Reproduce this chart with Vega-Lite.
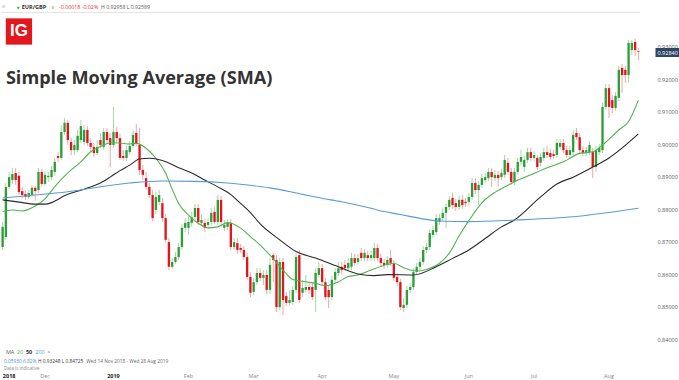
{
"$schema":"https://vega.github.io/schema/vega-lite/v6.json",
"width":639,"height":368,"padding":0,"background":"white",
"config":{"view":{"stroke":null},"axis":{"labelFont":"Open Sans"},"text":{"font":"Open Sans"}},
"datasets":{
"one":[{}],
"candles":[
{"date":"2018-11-14","open":0.8684,"high":0.8761,"low":0.8675,"close":0.8746},
{"date":"2018-11-15","open":0.8715,"high":0.8881,"low":0.8706,"close":0.8869},
{"date":"2018-11-16","open":0.8869,"high":0.8915,"low":0.8863,"close":0.8899},
{"date":"2018-11-19","open":0.8890,"high":0.8927,"low":0.8878,"close":0.8909},
{"date":"2018-11-20","open":0.8912,"high":0.8927,"low":0.8875,"close":0.8890},
{"date":"2018-11-21","open":0.8903,"high":0.8915,"low":0.8844,"close":0.8853},
{"date":"2018-11-22","open":0.8856,"high":0.8869,"low":0.8835,"close":0.8844},
{"date":"2018-11-23","open":0.8847,"high":0.8859,"low":0.8829,"close":0.8838},
{"date":"2018-11-26","open":0.8838,"high":0.8859,"low":0.8832,"close":0.8850},
{"date":"2018-11-27","open":0.8844,"high":0.8875,"low":0.8838,"close":0.8866},
{"date":"2018-11-28","open":0.8866,"high":0.8872,"low":0.8826,"close":0.8856},
{"date":"2018-11-29","open":0.8859,"high":0.8927,"low":0.8850,"close":0.8915},
{"date":"2018-11-30","open":0.8915,"high":0.8924,"low":0.8869,"close":0.8878},
{"date":"2018-12-03","open":0.8878,"high":0.8918,"low":0.8872,"close":0.8906},
{"date":"2018-12-04","open":0.8899,"high":0.8915,"low":0.8884,"close":0.8903},
{"date":"2018-12-05","open":0.8899,"high":0.8933,"low":0.8890,"close":0.8921},
{"date":"2018-12-06","open":0.8915,"high":0.8958,"low":0.8903,"close":0.8946},
{"date":"2018-12-07","open":0.8964,"high":0.8976,"low":0.8946,"close":0.8958},
{"date":"2018-12-10","open":0.8958,"high":0.9059,"low":0.8952,"close":0.9038},
{"date":"2018-12-11","open":0.9038,"high":0.9081,"low":0.9029,"close":0.9066},
{"date":"2018-12-12","open":0.9066,"high":0.9075,"low":0.8998,"close":0.9013},
{"date":"2018-12-13","open":0.9007,"high":0.9019,"low":0.8967,"close":0.8982},
{"date":"2018-12-14","open":0.8982,"high":0.9013,"low":0.8967,"close":0.8998},
{"date":"2018-12-17","open":0.8982,"high":0.9044,"low":0.8976,"close":0.9026},
{"date":"2018-12-18","open":0.9013,"high":0.9075,"low":0.9004,"close":0.9056},
{"date":"2018-12-19","open":0.9007,"high":0.9059,"low":0.8998,"close":0.9044},
{"date":"2018-12-20","open":0.9044,"high":0.9056,"low":0.8995,"close":0.9004},
{"date":"2018-12-21","open":0.9004,"high":0.9019,"low":0.8976,"close":0.8992},
{"date":"2018-12-24","open":0.8992,"high":0.9004,"low":0.8961,"close":0.8973},
{"date":"2018-12-25","open":0.8973,"high":0.9013,"low":0.8967,"close":0.8992},
{"date":"2018-12-26","open":0.9013,"high":0.9035,"low":0.8989,"close":0.8998},
{"date":"2018-12-27","open":0.8992,"high":0.9050,"low":0.8982,"close":0.9038},
{"date":"2018-12-28","open":0.9038,"high":0.9050,"low":0.9004,"close":0.9013},
{"date":"2018-12-31","open":0.9019,"high":0.9035,"low":0.8930,"close":0.8998},
{"date":"2019-01-01","open":0.8998,"high":0.9115,"low":0.8989,"close":0.9038},
{"date":"2019-01-02","open":0.9038,"high":0.9053,"low":0.9007,"close":0.9019},
{"date":"2019-01-03","open":0.9019,"high":0.9032,"low":0.8952,"close":0.8958},
{"date":"2019-01-04","open":0.8964,"high":0.8982,"low":0.8949,"close":0.8958},
{"date":"2019-01-07","open":0.8958,"high":0.8995,"low":0.8949,"close":0.8982},
{"date":"2019-01-08","open":0.8976,"high":0.9010,"low":0.8967,"close":0.8995},
{"date":"2019-01-09","open":0.8995,"high":0.9044,"low":0.8989,"close":0.9029},
{"date":"2019-01-10","open":0.9035,"high":0.9063,"low":0.8995,"close":0.9004},
{"date":"2019-01-11","open":0.8998,"high":0.9050,"low":0.8906,"close":0.8921},
{"date":"2019-01-14","open":0.8921,"high":0.8936,"low":0.8890,"close":0.8906},
{"date":"2019-01-15","open":0.8896,"high":0.8915,"low":0.8859,"close":0.8869},
{"date":"2019-01-16","open":0.8869,"high":0.8881,"low":0.8835,"close":0.8844},
{"date":"2019-01-17","open":0.8844,"high":0.8859,"low":0.8764,"close":0.8773},
{"date":"2019-01-18","open":0.8798,"high":0.8853,"low":0.8786,"close":0.8838},
{"date":"2019-01-21","open":0.8823,"high":0.8859,"low":0.8813,"close":0.8844},
{"date":"2019-01-22","open":0.8819,"high":0.8835,"low":0.8761,"close":0.8773},
{"date":"2019-01-23","open":0.8773,"high":0.8786,"low":0.8696,"close":0.8706},
{"date":"2019-01-24","open":0.8699,"high":0.8712,"low":0.8613,"close":0.8623},
{"date":"2019-01-25","open":0.8623,"high":0.8650,"low":0.8616,"close":0.8638},
{"date":"2019-01-28","open":0.8638,"high":0.8669,"low":0.8632,"close":0.8653},
{"date":"2019-01-29","open":0.8653,"high":0.8696,"low":0.8644,"close":0.8684},
{"date":"2019-01-30","open":0.8684,"high":0.8755,"low":0.8675,"close":0.8743},
{"date":"2019-01-31","open":0.8743,"high":0.8773,"low":0.8730,"close":0.8758},
{"date":"2019-02-01","open":0.8743,"high":0.8779,"low":0.8721,"close":0.8761},
{"date":"2019-02-04","open":0.8758,"high":0.8792,"low":0.8746,"close":0.8776},
{"date":"2019-02-05","open":0.8776,"high":0.8816,"low":0.8767,"close":0.8804},
{"date":"2019-02-06","open":0.8804,"high":0.8816,"low":0.8752,"close":0.8761},
{"date":"2019-02-07","open":0.8758,"high":0.8783,"low":0.8749,"close":0.8767},
{"date":"2019-02-08","open":0.8758,"high":0.8770,"low":0.8730,"close":0.8743},
{"date":"2019-02-11","open":0.8752,"high":0.8773,"low":0.8743,"close":0.8761},
{"date":"2019-02-12","open":0.8761,"high":0.8804,"low":0.8752,"close":0.8789},
{"date":"2019-02-13","open":0.8792,"high":0.8807,"low":0.8755,"close":0.8761},
{"date":"2019-02-14","open":0.8761,"high":0.8844,"low":0.8752,"close":0.8829},
{"date":"2019-02-15","open":0.8829,"high":0.8841,"low":0.8749,"close":0.8761},
{"date":"2019-02-18","open":0.8743,"high":0.8767,"low":0.8733,"close":0.8752},
{"date":"2019-02-19","open":0.8746,"high":0.8770,"low":0.8736,"close":0.8758},
{"date":"2019-02-20","open":0.8758,"high":0.8770,"low":0.8675,"close":0.8684},
{"date":"2019-02-21","open":0.8684,"high":0.8712,"low":0.8675,"close":0.8699},
{"date":"2019-02-22","open":0.8696,"high":0.8712,"low":0.8663,"close":0.8675},
{"date":"2019-02-25","open":0.8681,"high":0.8693,"low":0.8666,"close":0.8675},
{"date":"2019-02-26","open":0.8675,"high":0.8687,"low":0.8644,"close":0.8653},
{"date":"2019-02-27","open":0.8653,"high":0.8666,"low":0.8583,"close":0.8592},
{"date":"2019-02-28","open":0.8592,"high":0.8607,"low":0.8530,"close":0.8543},
{"date":"2019-03-01","open":0.8546,"high":0.8589,"low":0.8536,"close":0.8576},
{"date":"2019-03-04","open":0.8576,"high":0.8619,"low":0.8567,"close":0.8604},
{"date":"2019-03-05","open":0.8604,"high":0.8619,"low":0.8579,"close":0.8589},
{"date":"2019-03-06","open":0.8589,"high":0.8613,"low":0.8567,"close":0.8598},
{"date":"2019-03-07","open":0.8598,"high":0.8613,"low":0.8539,"close":0.8552},
{"date":"2019-03-08","open":0.8552,"high":0.8650,"low":0.8539,"close":0.8629},
{"date":"2019-03-11","open":0.8659,"high":0.8666,"low":0.8576,"close":0.8644},
{"date":"2019-03-12","open":0.8644,"high":0.8659,"low":0.8484,"close":0.8499},
{"date":"2019-03-13","open":0.8499,"high":0.8650,"low":0.8490,"close":0.8638},
{"date":"2019-03-14","open":0.8638,"high":0.8650,"low":0.8475,"close":0.8521},
{"date":"2019-03-15","open":0.8533,"high":0.8546,"low":0.8503,"close":0.8512},
{"date":"2019-03-18","open":0.8512,"high":0.8552,"low":0.8503,"close":0.8521},
{"date":"2019-03-19","open":0.8515,"high":0.8564,"low":0.8506,"close":0.8552},
{"date":"2019-03-20","open":0.8552,"high":0.8666,"low":0.8543,"close":0.8653},
{"date":"2019-03-21","open":0.8659,"high":0.8675,"low":0.8512,"close":0.8521},
{"date":"2019-03-22","open":0.8543,"high":0.8583,"low":0.8530,"close":0.8558},
{"date":"2019-03-25","open":0.8552,"high":0.8598,"low":0.8543,"close":0.8561},
{"date":"2019-03-26","open":0.8561,"high":0.8573,"low":0.8539,"close":0.8552},
{"date":"2019-03-27","open":0.8561,"high":0.8573,"low":0.8521,"close":0.8530},
{"date":"2019-03-28","open":0.8552,"high":0.8619,"low":0.8484,"close":0.8604},
{"date":"2019-03-29","open":0.8598,"high":0.8638,"low":0.8589,"close":0.8619},
{"date":"2019-04-01","open":0.8619,"high":0.8632,"low":0.8567,"close":0.8576},
{"date":"2019-04-02","open":0.8576,"high":0.8589,"low":0.8521,"close":0.8530},
{"date":"2019-04-03","open":0.8552,"high":0.8564,"low":0.8496,"close":0.8530},
{"date":"2019-04-04","open":0.8530,"high":0.8595,"low":0.8521,"close":0.8583},
{"date":"2019-04-05","open":0.8583,"high":0.8619,"low":0.8573,"close":0.8607},
{"date":"2019-04-08","open":0.8604,"high":0.8638,"low":0.8595,"close":0.8619},
{"date":"2019-04-09","open":0.8623,"high":0.8638,"low":0.8601,"close":0.8613},
{"date":"2019-04-10","open":0.8629,"high":0.8644,"low":0.8610,"close":0.8619},
{"date":"2019-04-11","open":0.8619,"high":0.8650,"low":0.8610,"close":0.8635},
{"date":"2019-04-12","open":0.8623,"high":0.8666,"low":0.8613,"close":0.8650},
{"date":"2019-04-15","open":0.8650,"high":0.8663,"low":0.8626,"close":0.8635},
{"date":"2019-04-16","open":0.8638,"high":0.8663,"low":0.8629,"close":0.8650},
{"date":"2019-04-17","open":0.8666,"high":0.8681,"low":0.8641,"close":0.8650},
{"date":"2019-04-18","open":0.8650,"high":0.8678,"low":0.8641,"close":0.8666},
{"date":"2019-04-19","open":0.8659,"high":0.8672,"low":0.8641,"close":0.8650},
{"date":"2019-04-22","open":0.8650,"high":0.8672,"low":0.8641,"close":0.8659},
{"date":"2019-04-23","open":0.8650,"high":0.8696,"low":0.8641,"close":0.8681},
{"date":"2019-04-24","open":0.8681,"high":0.8693,"low":0.8641,"close":0.8650},
{"date":"2019-04-25","open":0.8650,"high":0.8663,"low":0.8623,"close":0.8635},
{"date":"2019-04-26","open":0.8635,"high":0.8647,"low":0.8616,"close":0.8629},
{"date":"2019-04-29","open":0.8629,"high":0.8656,"low":0.8619,"close":0.8644},
{"date":"2019-04-30","open":0.8650,"high":0.8675,"low":0.8626,"close":0.8635},
{"date":"2019-05-01","open":0.8632,"high":0.8644,"low":0.8579,"close":0.8589},
{"date":"2019-05-02","open":0.8592,"high":0.8604,"low":0.8564,"close":0.8576},
{"date":"2019-05-03","open":0.8576,"high":0.8586,"low":0.8490,"close":0.8499},
{"date":"2019-05-06","open":0.8496,"high":0.8527,"low":0.8484,"close":0.8506},
{"date":"2019-05-07","open":0.8506,"high":0.8564,"low":0.8496,"close":0.8552},
{"date":"2019-05-08","open":0.8552,"high":0.8573,"low":0.8543,"close":0.8561},
{"date":"2019-05-09","open":0.8561,"high":0.8619,"low":0.8552,"close":0.8607},
{"date":"2019-05-10","open":0.8607,"high":0.8635,"low":0.8598,"close":0.8623},
{"date":"2019-05-13","open":0.8623,"high":0.8650,"low":0.8613,"close":0.8638},
{"date":"2019-05-14","open":0.8638,"high":0.8687,"low":0.8629,"close":0.8675},
{"date":"2019-05-15","open":0.8675,"high":0.8696,"low":0.8666,"close":0.8684},
{"date":"2019-05-16","open":0.8684,"high":0.8739,"low":0.8675,"close":0.8727},
{"date":"2019-05-17","open":0.8721,"high":0.8749,"low":0.8712,"close":0.8736},
{"date":"2019-05-20","open":0.8730,"high":0.8786,"low":0.8721,"close":0.8773},
{"date":"2019-05-21","open":0.8761,"high":0.8786,"low":0.8752,"close":0.8773},
{"date":"2019-05-22","open":0.8773,"high":0.8804,"low":0.8764,"close":0.8789},
{"date":"2019-05-23","open":0.8789,"high":0.8819,"low":0.8743,"close":0.8807},
{"date":"2019-05-24","open":0.8807,"high":0.8841,"low":0.8798,"close":0.8829},
{"date":"2019-05-27","open":0.8835,"high":0.8850,"low":0.8801,"close":0.8813},
{"date":"2019-05-28","open":0.8819,"high":0.8832,"low":0.8795,"close":0.8807},
{"date":"2019-05-29","open":0.8807,"high":0.8841,"low":0.8798,"close":0.8829},
{"date":"2019-05-30","open":0.8829,"high":0.8844,"low":0.8801,"close":0.8813},
{"date":"2019-05-31","open":0.8823,"high":0.8835,"low":0.8807,"close":0.8819},
{"date":"2019-06-03","open":0.8823,"high":0.8850,"low":0.8813,"close":0.8838},
{"date":"2019-06-04","open":0.8838,"high":0.8896,"low":0.8829,"close":0.8881},
{"date":"2019-06-05","open":0.8881,"high":0.8896,"low":0.8847,"close":0.8859},
{"date":"2019-06-06","open":0.8859,"high":0.8887,"low":0.8813,"close":0.8875},
{"date":"2019-06-07","open":0.8875,"high":0.8909,"low":0.8866,"close":0.8896},
{"date":"2019-06-10","open":0.8890,"high":0.8912,"low":0.8881,"close":0.8899},
{"date":"2019-06-11","open":0.8896,"high":0.8927,"low":0.8887,"close":0.8915},
{"date":"2019-06-12","open":0.8915,"high":0.8927,"low":0.8869,"close":0.8899},
{"date":"2019-06-13","open":0.8896,"high":0.8921,"low":0.8887,"close":0.8906},
{"date":"2019-06-14","open":0.8906,"high":0.8918,"low":0.8869,"close":0.8896},
{"date":"2019-06-17","open":0.8899,"high":0.8924,"low":0.8890,"close":0.8912},
{"date":"2019-06-18","open":0.8906,"high":0.8967,"low":0.8896,"close":0.8952},
{"date":"2019-06-19","open":0.8943,"high":0.8958,"low":0.8906,"close":0.8915},
{"date":"2019-06-20","open":0.8915,"high":0.8927,"low":0.8875,"close":0.8884},
{"date":"2019-06-21","open":0.8884,"high":0.8927,"low":0.8875,"close":0.8915},
{"date":"2019-06-24","open":0.8915,"high":0.8958,"low":0.8906,"close":0.8946},
{"date":"2019-06-25","open":0.8946,"high":0.8983,"low":0.8936,"close":0.8961},
{"date":"2019-06-26","open":0.8930,"high":0.8964,"low":0.8915,"close":0.8952},
{"date":"2019-06-27","open":0.8952,"high":0.8989,"low":0.8943,"close":0.8976},
{"date":"2019-06-28","open":0.8976,"high":0.8989,"low":0.8949,"close":0.8958},
{"date":"2019-07-01","open":0.8958,"high":0.8979,"low":0.8949,"close":0.8967},
{"date":"2019-07-02","open":0.8958,"high":0.8967,"low":0.8921,"close":0.8930},
{"date":"2019-07-03","open":0.8943,"high":0.8973,"low":0.8933,"close":0.8961},
{"date":"2019-07-04","open":0.8958,"high":0.8989,"low":0.8949,"close":0.8976},
{"date":"2019-07-05","open":0.8976,"high":0.8995,"low":0.8958,"close":0.8967},
{"date":"2019-07-08","open":0.8973,"high":0.8986,"low":0.8952,"close":0.8961},
{"date":"2019-07-09","open":0.8970,"high":0.8983,"low":0.8955,"close":0.8964},
{"date":"2019-07-10","open":0.8967,"high":0.9016,"low":0.8958,"close":0.9004},
{"date":"2019-07-11","open":0.8992,"high":0.9016,"low":0.8983,"close":0.9004},
{"date":"2019-07-12","open":0.9004,"high":0.9016,"low":0.8973,"close":0.8982},
{"date":"2019-07-15","open":0.8982,"high":0.8995,"low":0.8958,"close":0.8967},
{"date":"2019-07-16","open":0.8967,"high":0.8995,"low":0.8958,"close":0.8982},
{"date":"2019-07-17","open":0.8976,"high":0.9044,"low":0.8967,"close":0.9029},
{"date":"2019-07-18","open":0.9035,"high":0.9050,"low":0.9013,"close":0.9022},
{"date":"2019-07-19","open":0.9022,"high":0.9035,"low":0.8973,"close":0.8982},
{"date":"2019-07-22","open":0.8982,"high":0.8995,"low":0.8964,"close":0.8973},
{"date":"2019-07-23","open":0.8973,"high":0.8992,"low":0.8964,"close":0.8982},
{"date":"2019-07-24","open":0.8976,"high":0.9010,"low":0.8967,"close":0.8998},
{"date":"2019-07-25","open":0.8976,"high":0.8989,"low":0.8896,"close":0.8930},
{"date":"2019-07-26","open":0.8930,"high":0.8995,"low":0.8915,"close":0.8982},
{"date":"2019-07-29","open":0.8976,"high":0.9001,"low":0.8967,"close":0.8989},
{"date":"2019-07-30","open":0.8982,"high":0.9127,"low":0.8973,"close":0.9115},
{"date":"2019-07-31","open":0.9115,"high":0.9185,"low":0.9106,"close":0.9173},
{"date":"2019-08-01","open":0.9173,"high":0.9185,"low":0.9081,"close":0.9115},
{"date":"2019-08-02","open":0.9136,"high":0.9152,"low":0.9096,"close":0.9112},
{"date":"2019-08-05","open":0.9112,"high":0.9161,"low":0.9103,"close":0.9149},
{"date":"2019-08-06","open":0.9143,"high":0.9241,"low":0.9133,"close":0.9229},
{"date":"2019-08-07","open":0.9235,"high":0.9247,"low":0.9158,"close":0.9213},
{"date":"2019-08-08","open":0.9229,"high":0.9241,"low":0.9189,"close":0.9213},
{"date":"2019-08-09","open":0.9213,"high":0.9321,"low":0.9189,"close":0.9312},
{"date":"2019-08-12","open":0.9290,"high":0.9321,"low":0.9275,"close":0.9312},
{"date":"2019-08-13","open":0.9315,"high":0.9325,"low":0.9272,"close":0.9290},
{"date":"2019-08-14","open":0.9286,"high":0.9296,"low":0.9259,"close":0.9284}
],
"ma":[
{"date":"2018-11-14","ma":"MA20","value":0.8793},
{"date":"2018-11-19","ma":"MA20","value":0.8798},
{"date":"2018-11-22","ma":"MA20","value":0.8795},
{"date":"2018-11-28","ma":"MA20","value":0.8810},
{"date":"2018-12-03","ma":"MA20","value":0.8832},
{"date":"2018-12-06","ma":"MA20","value":0.8870},
{"date":"2018-12-12","ma":"MA20","value":0.8912},
{"date":"2018-12-18","ma":"MA20","value":0.8946},
{"date":"2018-12-21","ma":"MA20","value":0.8977},
{"date":"2018-12-26","ma":"MA20","value":0.8993},
{"date":"2018-12-31","ma":"MA20","value":0.9005},
{"date":"2019-01-03","ma":"MA20","value":0.9004},
{"date":"2019-01-08","ma":"MA20","value":0.9001},
{"date":"2019-01-10","ma":"MA20","value":0.9003},
{"date":"2019-01-15","ma":"MA20","value":0.8988},
{"date":"2019-01-18","ma":"MA20","value":0.8957},
{"date":"2019-01-23","ma":"MA20","value":0.8911},
{"date":"2019-01-25","ma":"MA20","value":0.8862},
{"date":"2019-01-29","ma":"MA20","value":0.8818},
{"date":"2019-02-01","ma":"MA20","value":0.8782},
{"date":"2019-02-06","ma":"MA20","value":0.8757},
{"date":"2019-02-11","ma":"MA20","value":0.8743},
{"date":"2019-02-14","ma":"MA20","value":0.8746},
{"date":"2019-02-19","ma":"MA20","value":0.8759},
{"date":"2019-02-25","ma":"MA20","value":0.8742},
{"date":"2019-02-28","ma":"MA20","value":0.8716},
{"date":"2019-03-05","ma":"MA20","value":0.8690},
{"date":"2019-03-08","ma":"MA20","value":0.8659},
{"date":"2019-03-14","ma":"MA20","value":0.8613},
{"date":"2019-03-19","ma":"MA20","value":0.8584},
{"date":"2019-03-25","ma":"MA20","value":0.8577},
{"date":"2019-03-28","ma":"MA20","value":0.8572},
{"date":"2019-04-02","ma":"MA20","value":0.8565},
{"date":"2019-04-08","ma":"MA20","value":0.8577},
{"date":"2019-04-11","ma":"MA20","value":0.8593},
{"date":"2019-04-16","ma":"MA20","value":0.8598},
{"date":"2019-04-22","ma":"MA20","value":0.8613},
{"date":"2019-04-29","ma":"MA20","value":0.8630},
{"date":"2019-05-01","ma":"MA20","value":0.8634},
{"date":"2019-05-06","ma":"MA20","value":0.8620},
{"date":"2019-05-10","ma":"MA20","value":0.8610},
{"date":"2019-05-15","ma":"MA20","value":0.8615},
{"date":"2019-05-21","ma":"MA20","value":0.8634},
{"date":"2019-05-24","ma":"MA20","value":0.8665},
{"date":"2019-05-29","ma":"MA20","value":0.8718},
{"date":"2019-06-03","ma":"MA20","value":0.8765},
{"date":"2019-06-07","ma":"MA20","value":0.8820},
{"date":"2019-06-13","ma":"MA20","value":0.8852},
{"date":"2019-06-19","ma":"MA20","value":0.8874},
{"date":"2019-06-21","ma":"MA20","value":0.8885},
{"date":"2019-06-28","ma":"MA20","value":0.8906},
{"date":"2019-07-05","ma":"MA20","value":0.8928},
{"date":"2019-07-12","ma":"MA20","value":0.8946},
{"date":"2019-07-19","ma":"MA20","value":0.8972},
{"date":"2019-07-25","ma":"MA20","value":0.8977},
{"date":"2019-07-30","ma":"MA20","value":0.8998},
{"date":"2019-08-06","ma":"MA20","value":0.9044},
{"date":"2019-08-09","ma":"MA20","value":0.9070},
{"date":"2019-08-14","ma":"MA20","value":0.9136},
{"date":"2018-11-14","ma":"MA50","value":0.8829},
{"date":"2018-11-21","ma":"MA50","value":0.8822},
{"date":"2018-11-28","ma":"MA50","value":0.8816},
{"date":"2018-12-03","ma":"MA50","value":0.8816},
{"date":"2018-12-12","ma":"MA50","value":0.8846},
{"date":"2018-12-19","ma":"MA50","value":0.8862},
{"date":"2018-12-26","ma":"MA50","value":0.8881},
{"date":"2018-12-31","ma":"MA50","value":0.8899},
{"date":"2019-01-03","ma":"MA50","value":0.8919},
{"date":"2019-01-08","ma":"MA50","value":0.8936},
{"date":"2019-01-11","ma":"MA50","value":0.8955},
{"date":"2019-01-16","ma":"MA50","value":0.8957},
{"date":"2019-01-22","ma":"MA50","value":0.8950},
{"date":"2019-01-29","ma":"MA50","value":0.8928},
{"date":"2019-02-04","ma":"MA50","value":0.8912},
{"date":"2019-02-08","ma":"MA50","value":0.8890},
{"date":"2019-02-14","ma":"MA50","value":0.8869},
{"date":"2019-02-20","ma":"MA50","value":0.8845},
{"date":"2019-02-25","ma":"MA50","value":0.8818},
{"date":"2019-02-28","ma":"MA50","value":0.8790},
{"date":"2019-03-05","ma":"MA50","value":0.8755},
{"date":"2019-03-13","ma":"MA50","value":0.8706},
{"date":"2019-03-20","ma":"MA50","value":0.8670},
{"date":"2019-03-28","ma":"MA50","value":0.8650},
{"date":"2019-04-08","ma":"MA50","value":0.8623},
{"date":"2019-04-16","ma":"MA50","value":0.8601},
{"date":"2019-04-23","ma":"MA50","value":0.8596},
{"date":"2019-04-29","ma":"MA50","value":0.8599},
{"date":"2019-05-09","ma":"MA50","value":0.8598},
{"date":"2019-05-20","ma":"MA50","value":0.8623},
{"date":"2019-05-27","ma":"MA50","value":0.8649},
{"date":"2019-06-03","ma":"MA50","value":0.8675},
{"date":"2019-06-10","ma":"MA50","value":0.8710},
{"date":"2019-06-17","ma":"MA50","value":0.8746},
{"date":"2019-06-21","ma":"MA50","value":0.8767},
{"date":"2019-07-03","ma":"MA50","value":0.8838},
{"date":"2019-07-10","ma":"MA50","value":0.8878},
{"date":"2019-07-17","ma":"MA50","value":0.8899},
{"date":"2019-07-25","ma":"MA50","value":0.8930},
{"date":"2019-08-01","ma":"MA50","value":0.8958},
{"date":"2019-08-14","ma":"MA50","value":0.9032},
{"date":"2018-11-14","ma":"MA200","value":0.8835},
{"date":"2018-12-12","ma":"MA200","value":0.8854},
{"date":"2019-01-08","ma":"MA200","value":0.8881},
{"date":"2019-01-22","ma":"MA200","value":0.8887},
{"date":"2019-02-05","ma":"MA200","value":0.8886},
{"date":"2019-02-19","ma":"MA200","value":0.8881},
{"date":"2019-03-05","ma":"MA200","value":0.8870},
{"date":"2019-03-08","ma":"MA200","value":0.8866},
{"date":"2019-03-22","ma":"MA200","value":0.8846},
{"date":"2019-04-01","ma":"MA200","value":0.8834},
{"date":"2019-04-09","ma":"MA200","value":0.8823},
{"date":"2019-04-22","ma":"MA200","value":0.8803},
{"date":"2019-04-26","ma":"MA200","value":0.8793},
{"date":"2019-05-03","ma":"MA200","value":0.8784},
{"date":"2019-05-13","ma":"MA200","value":0.8772},
{"date":"2019-05-21","ma":"MA200","value":0.8764},
{"date":"2019-06-03","ma":"MA200","value":0.8762},
{"date":"2019-06-21","ma":"MA200","value":0.8767},
{"date":"2019-07-17","ma":"MA200","value":0.8777},
{"date":"2019-08-14","ma":"MA200","value":0.8803}
]},
"resolve":{"axis":{"y":"independent"}},
"layer":[
{"data":{"name":"candles"},
 "mark":{"type":"rule","strokeWidth":1},
 "encoding":{
  "x":{"field":"date","type":"ordinal","scale":{"paddingInner":0,"paddingOuter":0},
   "axis":{"orient":"bottom","labels":true,
    "labelExpr":"indexof(['2018-11-16','2018-12-03','2019-01-01','2019-02-01','2019-03-01','2019-04-01','2019-05-01','2019-06-03','2019-07-01','2019-08-01'], datum.value) < 0 ? '' : substring(datum.value,5,7)=='11' ? '2018' : substring(datum.value,5,7)=='12' ? 'Dec' : substring(datum.value,5,7)=='01' ? '2019' : substring(datum.value,5,7)=='02' ? 'Feb' : substring(datum.value,5,7)=='03' ? 'Mar' : substring(datum.value,5,7)=='04' ? 'Apr' : substring(datum.value,5,7)=='05' ? 'May' : substring(datum.value,5,7)=='06' ? 'Jun' : substring(datum.value,5,7)=='07' ? 'Jul' : 'Aug'",
    "ticks":false,"domain":false,"grid":false,"labelAngle":0,"labelPadding":5,"labelFontSize":5.5,
    "labelColor":{"condition":{"test":"datum.value=='2018-11-16' || datum.value=='2019-01-01'","value":"#222222"},"value":"#888888"},
    "labelFontWeight":{"condition":{"test":"datum.value=='2018-11-16' || datum.value=='2019-01-01'","value":"bold"},"value":"normal"},
    "labelOverlap":false,"labelBound":false,"labelFlush":false,"title":null,"zindex":1}},
  "y":{"field":"low","type":"quantitative","scale":{"domain":[0.83117,0.9444],"nice":false,"zero":false},
   "axis":{"orient":"right","values":[0.84,0.85,0.86,0.87,0.88,0.89,0.9,0.91,0.92,0.93],"format":".5f","ticks":false,"domain":false,"grid":false,"labelPadding":17,"labelFontSize":5.5,"labelColor":"#555555","title":null,"labelOverlap":false}},
  "y2":{"field":"high"},
  "color":{"condition":{"test":"datum.close >= datum.open","value":"#a4d7a4"},"value":"#f4a5a5"}
 }},
{"data":{"name":"candles"},
 "mark":{"type":"bar","width":{"band":0.72}},
 "encoding":{
  "x":{"field":"date","type":"ordinal"},
  "y":{"field":"open","type":"quantitative","scale":{"domain":[0.83117,0.9444],"nice":false,"zero":false},"axis":null},
  "y2":{"field":"close"},
  "color":{"condition":{"test":"datum.close >= datum.open","value":"#2f9e3a"},"value":"#e3141c"}
 }},
{"data":{"name":"ma"},
 "mark":{"type":"line","strokeWidth":1.1,"interpolate":"monotone"},
 "encoding":{
  "x":{"field":"date","type":"ordinal"},
  "y":{"field":"value","type":"quantitative","scale":{"domain":[0.83117,0.9444],"nice":false,"zero":false},"axis":null},
  "color":{"field":"ma","type":"nominal","scale":{"domain":["MA20","MA50","MA200"],"range":["#4fb34f","#2a2a2a","#5b9bd5"]},"legend":null}
 }},
{"data":{"name":"one"},"mark":{"type":"rule","opacity":0},
 "encoding":{
  "y":{"datum":0.9284,"type":"quantitative","scale":{"domain":[0.83117,0.9444],"nice":false,"zero":false},
   "axis":{"orient":"right","values":[0.9284],"format":".5f","domain":false,"grid":false,"ticks":true,"tickSize":24,"tickWidth":9,"tickColor":"#2f4566","offset":15,"labelPadding":-22,"labelColor":"#ffffff","labelFontSize":5.5,"title":null,"labelOverlap":false}}
 }},
{"data":{"name":"one"},"mark":{"type":"rule","color":"#e4e4e4","strokeWidth":1},
 "encoding":{"y":{"datum":0.94055,"type":"quantitative","scale":{"domain":[0.83117,0.9444],"nice":false,"zero":false},"axis":null}}},
{"data":{"name":"one"},"mark":{"type":"text","text":"≡","align":"left","baseline":"middle","fontSize":7,"color":"#888888","dx":-1},
 "encoding":{"x":{"datum":"2018-11-14","type":"ordinal"},"y":{"datum":0.94234,"type":"quantitative","scale":{"domain":[0.83117,0.9444],"nice":false,"zero":false},"axis":null}}},
{"data":{"name":"one"},"mark":{"type":"text","text":"●","align":"center","baseline":"middle","fontSize":5,"color":"#28a745","dx":-1},
 "encoding":{"x":{"datum":"2018-11-21","type":"ordinal"},"y":{"datum":0.94234,"type":"quantitative","scale":{"domain":[0.83117,0.9444],"nice":false,"zero":false},"axis":null}}},
{"data":{"name":"one"},"mark":{"type":"text","text":"EUR/GBP","align":"left","baseline":"middle","fontSize":5.6,"fontWeight":"bold","color":"#333333","dx":-0.5},
 "encoding":{"x":{"datum":"2018-11-22","type":"ordinal"},"y":{"datum":0.94234,"type":"quantitative","scale":{"domain":[0.83117,0.9444],"nice":false,"zero":false},"axis":null}}},
{"data":{"name":"one"},"mark":{"type":"text","text":"∨","align":"center","baseline":"middle","fontSize":5,"color":"#888888","dx":1},
 "encoding":{"x":{"datum":"2018-12-05","type":"ordinal"},"y":{"datum":0.94234,"type":"quantitative","scale":{"domain":[0.83117,0.9444],"nice":false,"zero":false},"axis":null}}},
{"data":{"name":"one"},"mark":{"type":"text","text":"-0.00018  -0.02%","align":"left","baseline":"middle","fontSize":5.3,"color":"#e0312f","dx":1},
 "encoding":{"x":{"datum":"2018-12-07","type":"ordinal"},"y":{"datum":0.94234,"type":"quantitative","scale":{"domain":[0.83117,0.9444],"nice":false,"zero":false},"axis":null}}},
{"data":{"name":"one"},"mark":{"type":"text","text":"H 0.92958  L 0.92589","align":"left","baseline":"middle","fontSize":5.2,"color":"#555555","dx":0.6},
 "encoding":{"x":{"datum":"2018-12-26","type":"ordinal"},"y":{"datum":0.94234,"type":"quantitative","scale":{"domain":[0.83117,0.9444],"nice":false,"zero":false},"axis":null}}},
{"data":{"name":"one"},"mark":{"type":"point","shape":"square","size":690,"filled":true,"opacity":1,"color":"#e3181f"},
 "encoding":{"x":{"datum":"2018-11-21","type":"ordinal"},"y":{"datum":0.93471,"type":"quantitative","scale":{"domain":[0.83117,0.9444],"nice":false,"zero":false},"axis":null}}},
{"data":{"name":"one"},"mark":{"type":"text","text":"IG","align":"center","baseline":"middle","fontSize":17,"fontWeight":"bold","font":"Liberation Sans","color":"#ffffff"},
 "encoding":{"x":{"datum":"2018-11-21","type":"ordinal"},"y":{"datum":0.93471,"type":"quantitative","scale":{"domain":[0.83117,0.9444],"nice":false,"zero":false},"axis":null}}},
{"data":{"name":"one"},"mark":{"type":"text","text":"Simple Moving Average (SMA)","align":"left","baseline":"alphabetic","fontSize":18.1,"fontWeight":"bold","color":"#333333"},
 "encoding":{"x":{"datum":"2018-11-15","type":"ordinal"},"y":{"datum":0.91855,"type":"quantitative","scale":{"domain":[0.83117,0.9444],"nice":false,"zero":false},"axis":null}}},
{"data":{"name":"one"},"mark":{"type":"text","text":"MA","align":"left","baseline":"middle","fontSize":5.5,"color":"#666666"},
 "encoding":{"x":{"datum":"2018-11-15","type":"ordinal"},"y":{"datum":0.8360,"type":"quantitative","scale":{"domain":[0.83117,0.9444],"nice":false,"zero":false},"axis":null}}},
{"data":{"name":"one"},"mark":{"type":"text","text":"20","align":"left","baseline":"middle","fontSize":5.5,"color":"#4fb34f","dx":1.3},
 "encoding":{"x":{"datum":"2018-11-20","type":"ordinal"},"y":{"datum":0.8360,"type":"quantitative","scale":{"domain":[0.83117,0.9444],"nice":false,"zero":false},"axis":null}}},
{"data":{"name":"one"},"mark":{"type":"text","text":"50","align":"left","baseline":"middle","fontSize":5.5,"fontWeight":"bold","color":"#333333","dx":0.5},
 "encoding":{"x":{"datum":"2018-11-23","type":"ordinal"},"y":{"datum":0.8360,"type":"quantitative","scale":{"domain":[0.83117,0.9444],"nice":false,"zero":false},"axis":null}}},
{"data":{"name":"one"},"mark":{"type":"text","text":"200","align":"left","baseline":"middle","fontSize":5.5,"color":"#5b9bd5"},
 "encoding":{"x":{"datum":"2018-11-28","type":"ordinal"},"y":{"datum":0.8360,"type":"quantitative","scale":{"domain":[0.83117,0.9444],"nice":false,"zero":false},"axis":null}}},
{"data":{"name":"one"},"mark":{"type":"text","text":"×","align":"left","baseline":"middle","fontSize":5.5,"color":"#888888","dx":-1},
 "encoding":{"x":{"datum":"2018-12-04","type":"ordinal"},"y":{"datum":0.8360,"type":"quantitative","scale":{"domain":[0.83117,0.9444],"nice":false,"zero":false},"axis":null}}},
{"data":{"name":"one"},"mark":{"type":"text","text":"0.05930 6.82%","align":"left","baseline":"middle","fontSize":4.8,"color":"#4a90d9","dx":1.4},
 "encoding":{"x":{"datum":"2018-11-14","type":"ordinal"},"y":{"datum":0.83311,"type":"quantitative","scale":{"domain":[0.83117,0.9444],"nice":false,"zero":false},"axis":null}}},
{"data":{"name":"one"},"mark":{"type":"text","text":"H 0.93248 L 0.84725","align":"left","baseline":"middle","fontSize":4.8,"color":"#333333","dx":-0.5},
 "encoding":{"x":{"datum":"2018-11-29","type":"ordinal"},"y":{"datum":0.83311,"type":"quantitative","scale":{"domain":[0.83117,0.9444],"nice":false,"zero":false},"axis":null}}},
{"data":{"name":"one"},"mark":{"type":"text","text":"Wed 14 Nov 2018 - Wed 28 Aug 2019","align":"left","baseline":"middle","fontSize":4.8,"color":"#666666","dx":2},
 "encoding":{"x":{"datum":"2018-12-19","type":"ordinal"},"y":{"datum":0.83311,"type":"quantitative","scale":{"domain":[0.83117,0.9444],"nice":false,"zero":false},"axis":null}}},
{"data":{"name":"one"},"mark":{"type":"text","text":"Data is indicative","align":"left","baseline":"middle","fontSize":4.5,"color":"#888888","dx":1.4},
 "encoding":{"x":{"datum":"2018-11-14","type":"ordinal"},"y":{"datum":0.83095,"type":"quantitative","scale":{"domain":[0.83117,0.9444],"nice":false,"zero":false},"axis":null}}}
]
}
